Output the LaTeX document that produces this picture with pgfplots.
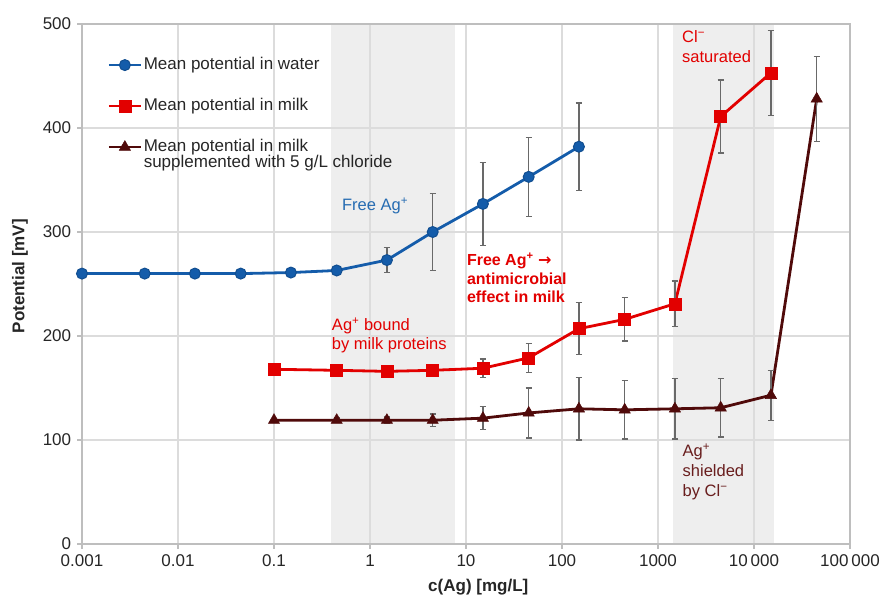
\documentclass[border=0pt]{standalone}
\usepackage{pgfplots}
\pgfplotsset{compat=1.18}
\usepackage{fontspec}
\setmainfont{Liberation Sans}
\newfontfamily\dejavu{DejaVu Sans}
\definecolor{cblue}{RGB}{20,92,170}
\definecolor{cred}{RGB}{226,0,0}
\definecolor{cbrown}{RGB}{80,10,10}
\definecolor{cerr}{RGB}{105,105,105}
\definecolor{cshade}{RGB}{238,238,238}
\definecolor{cgrid}{RGB}{220,220,220}
\definecolor{caxis}{RGB}{190,190,190}
\definecolor{cannblue}{RGB}{38,108,178}
\definecolor{cannbrown}{RGB}{105,30,30}
\pgfplotstableread{
x y e
0.001 260 0
0.0045 260 0
0.015 260 0
0.045 260 0
0.15 261 2
0.45 263 2
1.5 273 12
4.5 300 37
15 327 40
45 353 38
150 382 42
}\water
\pgfplotstableread{
x y e
0.1 168 0
0.45 167 2
1.5 166 4
4.5 167 5
15 169 9
45 179 14
150 207 25
450 216 21
1500 231 22
4500 411 35
15000 453 41
}\milk
\pgfplotstableread{
x y e
0.1 119 0
0.45 119 2
1.5 119 3
4.5 119 6
15 121 11
45 126 24
150 130 30
450 129 28
1500 130 29
4500 131 28
15000 143 24
45000 428 41
}\chloride
\begin{document}
\fontsize{17}{20}\selectfont
\begin{tikzpicture}
\begin{axis}[
  set layers,
  at={(0,0)}, anchor=south west,
  scale only axis, width=768pt, height=520pt,
  xmode=log, log basis x=10,
  xmin=0.001, xmax=100000, ymin=0, ymax=500,
  xtick={0.001,0.01,0.1,1,10,100,1000,10000,100000},
  xticklabels={0.001,0.01,0.1,1,10,100,1000,10\,000,100\,000},
  ytick={0,100,200,300,400,500},
  yticklabels={0,100,200,300,400,500},
  xminorticks=false,
  grid=major,
  major grid style={cgrid, line width=1.2pt},
  axis line style={caxis, line width=1.5pt},
  tick style={caxis, line width=1.2pt},
  tickpos=left,
  tick align=outside, major tick length=5pt,
  tick label style={text=black!85},
  xlabel={\textbf{c(Ag) [mg/L]}},
  ylabel={\textbf{Potential [mV]}},
  every axis x label/.style={at={(axis description cs:0.516,-0.0835)}, anchor=center, text=black!85},
  every axis y label/.style={at={(axis description cs:-0.0807,0.515)}, anchor=center, rotate=90, text=black!85},
  legend style={at={(axis description cs:0.029,0.9435)}, anchor=north west, draw=none, fill=none,
    row sep=22pt, nodes={inner sep=1.5pt, text height=12pt, text depth=4pt, text=black!85}},
  legend cell align=left,
  legend image code/.code={\draw[mark repeat=2,mark phase=2,#1] plot coordinates {(0pt,0pt) (16pt,0pt) (32pt,0pt)};},
  error bars/y dir=both, error bars/y explicit,
  error bars/error bar style={cerr, line width=1.4pt},
  error bars/error mark options={rotate=90, cerr, mark size=3.2pt, line width=1.4pt},
]
\addplot[fill=cshade, draw=none, forget plot, on layer=axis background] coordinates {(0.39,500) (7.7,500)} \closedcycle;
\addplot[fill=cshade, draw=none, forget plot, on layer=axis background] coordinates {(1430,500) (16000,500)} \closedcycle;

\addplot[cblue, line width=2.8pt, mark=*, mark size=5.5pt, mark options={fill=cblue, draw=cblue!85!black, line width=1pt}]
  table[x=x, y=y, y error=e] {\water};
\addlegendentry{Mean potential in water}
\addplot[cred, line width=2.8pt, mark=square*, mark size=6pt, mark options={fill=cred, draw=cred, line width=0.5pt}]
  table[x=x, y=y, y error=e] {\milk};
\addlegendentry{Mean potential in milk}
\addplot[cbrown, line width=2.8pt, mark=triangle*, mark size=6.5pt, mark options={fill=cbrown, draw=cbrown, line width=0.5pt}]
  table[x=x, y=y, y error=e] {\chloride};
\addlegendentry{\begin{tabular}[t]{@{}l@{}}Mean potential in milk\\[-4pt]supplemented with 5 g/L chloride\end{tabular}}

\node[anchor=west, inner sep=0pt, text=cannblue, font=\fontsize{16.5}{18.5}\selectfont] at (axis cs:0.51,325) {Free Ag\textsuperscript{+}};
\node[anchor=west, inner sep=0pt, text=cred, align=left, font=\bfseries\fontsize{16}{18.5}\selectfont] at (axis cs:10.2,256) {Free Ag\textsuperscript{+} {\dejavu\bfseries →}\\antimicrobial\\effect in milk};
\node[anchor=west, inner sep=0pt, text=cred, align=left, font=\fontsize{16.5}{19}\selectfont] at (axis cs:0.40,200.5) {Ag\textsuperscript{+} bound\\by milk proteins};
\node[anchor=west, inner sep=0pt, text=cred, align=left, font=\fontsize{16.5}{20}\selectfont] at (axis cs:1778,478) {Cl\textsuperscript{−}\\saturated};
\node[anchor=west, inner sep=0pt, text=cannbrown, align=left, font=\fontsize{16.5}{20}\selectfont] at (axis cs:1800,69) {Ag\textsuperscript{+}\\shielded\\by Cl\textsuperscript{−}};
\end{axis}
\pgfresetboundingbox
\path (-82pt,-52pt) rectangle (804pt,544pt);
\end{tikzpicture}
\end{document}
